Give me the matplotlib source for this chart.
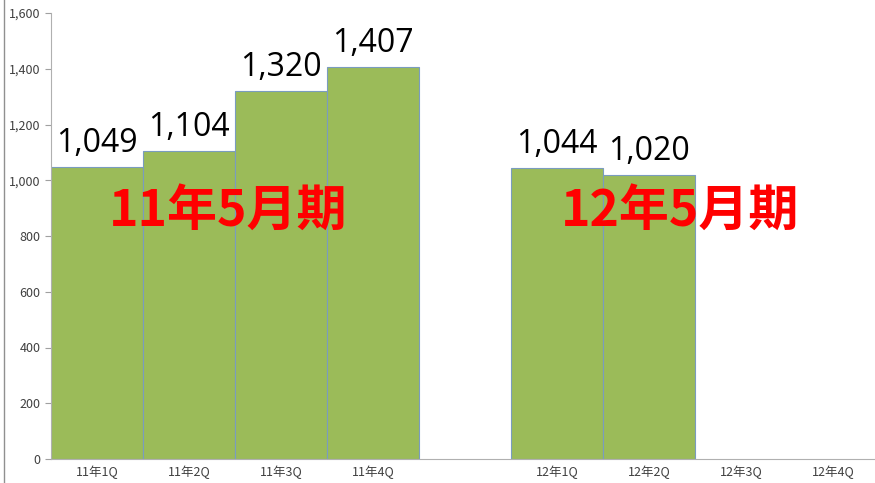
import matplotlib
matplotlib.use("Agg")
import matplotlib.pyplot as plt
from matplotlib.lines import Line2D
from matplotlib.ticker import FuncFormatter

plt.rcParams['font.family'] = ['Noto Sans CJK JP', 'DejaVu Sans']

# slot labels (index 4 is an empty gap slot)
categories = ["11年1Q", "11年2Q", "11年3Q", "11年4Q", "", "12年1Q", "12年2Q", "12年3Q", "12年4Q"]
values = [1049, 1104, 1320, 1407, None, 1044, 1020, None, None]
period_labels = ["11年5月期", "12年5月期"]
period_pos = [(1.42, 890), (6.34, 890)]

fig = plt.figure(figsize=(8.75, 4.83), dpi=100)
ax = fig.add_axes([51 / 875, 24 / 483, 828 / 875, 446 / 483])

bar_color = "#9bbb59"
edge_color = "#7a9cbf"

for i, v in enumerate(values):
    if v is None:
        continue
    ax.bar(i, v, width=1.0, color=bar_color, edgecolor=edge_color, linewidth=0.8)
    ax.annotate(f"{v:,}", (i, v), xytext=(0, 5), textcoords="offset points",
                ha="center", va="bottom", fontsize=23, color="black",
                family=["Open Sans", "DejaVu Sans"])

for lab, (x, y) in zip(period_labels, period_pos):
    ax.text(x, y, lab, ha="center", va="center", fontsize=36,
            fontweight="bold", color="#ff0000")

ax.set_xlim(-0.5, 8.5)
ax.set_ylim(0, 1600)
ax.set_yticks(range(0, 1601, 200))
ax.yaxis.set_major_formatter(FuncFormatter(lambda v, p: f"{int(v):,}"))
ax.set_xticks([i for i, c in enumerate(categories) if c])
ax.set_xticklabels([c for c in categories if c])

ax.tick_params(axis="y", labelsize=9, colors="#404040", length=4, width=0.8)
ax.tick_params(axis="x", labelsize=9, colors="#404040", length=0, pad=5)
for t in ax.get_yticklabels() + ax.get_xticklabels():
    t.set_color("#404040")
ax.tick_params(axis="y", color="#a0a0a0")

for s in ["top", "right"]:
    ax.spines[s].set_visible(False)
ax.spines["left"].set_color("#b0b0b0")
ax.spines["bottom"].set_color("#b0b0b0")

# thin gray frame line at the left edge of the image
fig.add_artist(Line2D([4 / 875, 4 / 875], [0, 1], transform=fig.transFigure,
                      color="#909090", linewidth=1))

fig.savefig("out.png", dpi=100)
